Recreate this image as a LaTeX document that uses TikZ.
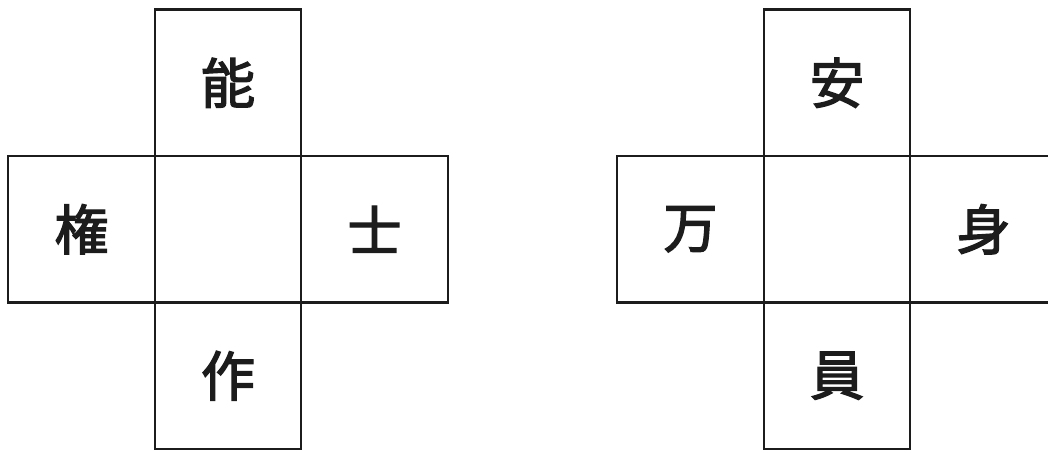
\documentclass[tikz,border=0pt]{standalone}
\usepackage{fontspec}
\newfontfamily\cjk[FakeBold=2.5]{Noto Sans CJK JP}
\usetikzlibrary{positioning}

\definecolor{ink}{HTML}{1C1C1C}

\tikzset{
    cell/.style = {draw = ink, line width = 0.8pt, minimum size = 2cm,
        inner sep = 0pt, outer sep = 0pt, text = ink,
        font = \cjk\fontsize{21}{21}\selectfont},
}

\begin{document}
\begin{tikzpicture}[node distance = 0pt]
        \useasboundingbox (0, 0) rectangle (14.307, 6.184);

        \begin{scope}[xshift = 3.113cm, yshift = 3.054cm]
            \node [cell] (lc) at (0, 0) {};
            \node [cell, above = of lc] (lt) {能};
            \node [cell, left = of lc] (ll) {権};
            \node [cell, right = of lc] (lr) {士};
            \node [cell, below = of lc] (lb) {作};
        \end{scope}

        \begin{scope}[xshift = 11.427cm, yshift = 3.054cm]
            \node [cell] (rc) at (0, 0) {};
            \node [cell, above = of rc] (rt) {安};
            \node [cell, left = of rc] (rl) {万};
            \node [cell, right = of rc] (rr) {身};
            \node [cell, below = of rc] (rb) {員};
        \end{scope}
    \end{tikzpicture}
\end{document}
